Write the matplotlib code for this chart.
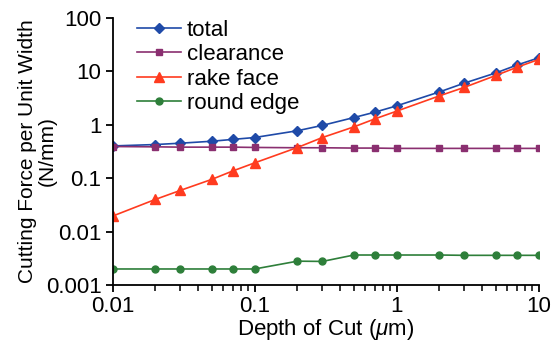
import numpy as np
import matplotlib
matplotlib.use("Agg")
import matplotlib.pyplot as plt
from matplotlib import ticker

plt.rcParams['font.family'] = ['Liberation Sans', 'DejaVu Sans']
plt.rcParams['mathtext.fontset'] = 'custom'
plt.rcParams['mathtext.it'] = 'Liberation Sans:italic'
plt.rcParams['mathtext.rm'] = 'Liberation Sans'

depth = [0.01, 0.02, 0.03, 0.05, 0.07, 0.1, 0.2, 0.3, 0.5, 0.7, 1, 2, 3, 5, 7, 10]
total = [0.40, 0.425, 0.45, 0.49, 0.53, 0.575, 0.77, 0.97, 1.36, 1.71, 2.25, 4.1, 6.0, 9.3, 13.0, 17.8]
clearance = [0.39, 0.385, 0.38, 0.38, 0.38, 0.375, 0.37, 0.37, 0.365, 0.365, 0.36, 0.36, 0.36, 0.36, 0.36, 0.36]
rake_face = [0.0195, 0.040, 0.059, 0.095, 0.136, 0.193, 0.374, 0.575, 0.91, 1.28, 1.79, 3.46, 5.0, 8.35, 11.8, 16.6]
round_edge = [0.002, 0.002, 0.002, 0.002, 0.002, 0.002, 0.0028, 0.00277, 0.00365, 0.00365, 0.00365, 0.00365, 0.0036, 0.0036, 0.0036, 0.0036]

fig = plt.figure(figsize=(5.52, 3.41), dpi=100)
ax = fig.add_axes([0.204, 0.164, 0.772, 0.784])

ax.plot(depth, total, color='#1f4aa8', marker='D', markersize=5.5, lw=1.2, label='total')
ax.plot(depth, clearance, color='#8a2f70', marker='s', markersize=5, lw=1.2, label='clearance')
ax.plot(depth, rake_face, color='#ff3b1f', marker='^', markersize=7, lw=1.2, label='rake face')
ax.plot(depth, round_edge, color='#2e7f3a', marker='o', markersize=5, lw=1.2, label='round edge')

ax.set_xscale('log')
ax.set_yscale('log')
ax.set_xlim(0.01, 10)
ax.set_ylim(0.001, 100)
ax.spines['top'].set_visible(False)
ax.spines['right'].set_visible(False)
ax.spines['left'].set_linewidth(1.3)
ax.spines['bottom'].set_linewidth(1.3)

ax.xaxis.set_major_locator(ticker.FixedLocator([0.01, 0.1, 1, 10]))
ax.xaxis.set_major_formatter(ticker.FixedFormatter(['0.01', '0.1', '1', '10']))
ax.xaxis.set_minor_locator(ticker.LogLocator(base=10, subs=np.arange(2, 10)))
ax.yaxis.set_major_locator(ticker.FixedLocator([0.001, 0.01, 0.1, 1, 10, 100]))
ax.yaxis.set_major_formatter(ticker.FixedFormatter(['0.001', '0.01', '0.1', '1', '10', '100']))
ax.yaxis.set_minor_locator(ticker.NullLocator())
ax.tick_params(axis='both', which='major', direction='out', length=5, width=1.3, labelsize=16, pad=3)
ax.tick_params(axis='x', which='minor', direction='out', length=4, width=1.1)

ax.set_xlabel(r'Depth of Cut ($\mu$m)', fontsize=16)
ax.xaxis.set_label_coords(0.5, -0.118)
ax.set_ylabel('Cutting Force per Unit Width\n(N/mm)', fontsize=15, linespacing=1.0)
ax.yaxis.set_label_coords(-0.132, 0.5)

ax.legend(loc='upper left', bbox_to_anchor=(0.02, 1.05), frameon=False, fontsize=16,
          handlelength=2.0, handletextpad=0.25, labelspacing=0.15, borderpad=0.2)

fig.savefig('out.png', dpi=100)
